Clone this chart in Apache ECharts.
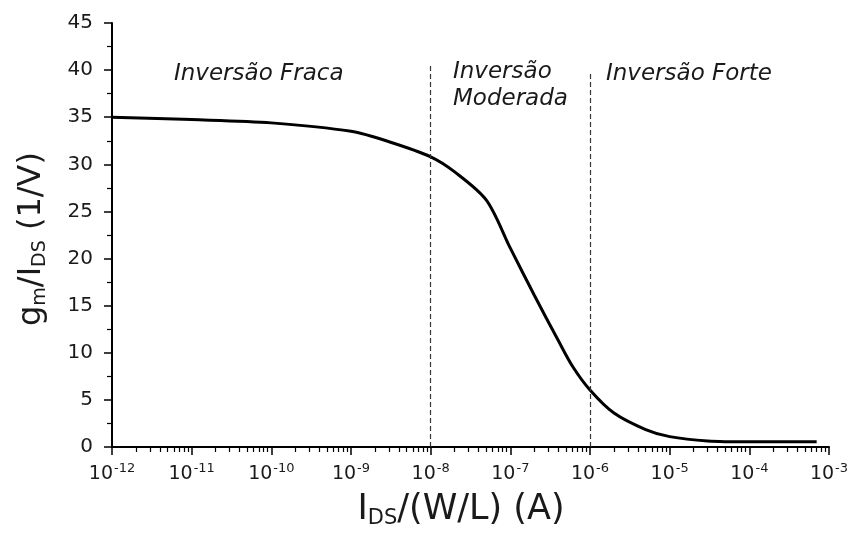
<!DOCTYPE html>
<html>
<head>
<meta charset="utf-8">
<script src="https://cdn.jsdelivr.net/npm/echarts@6/dist/echarts.min.js"></script>
<style>
  html, body { margin: 0; padding: 0; background: #fff; }
  #chart { width: 852px; height: 533px; }
</style>
</head>
<body>
<div id="chart"></div>
<script>
// data
const currents = [1e-12, 1e-11, 1e-10, 1e-9, 3e-9, 1e-8, 2e-8, 5e-8, 1e-7, 2e-7, 4e-7, 6e-7, 1e-6, 2e-6, 5e-6, 1e-5, 3e-5, 1e-4, 7e-4];
const gmId = [35.0, 34.75, 34.4, 33.5, 32.4, 30.8, 29.2, 26.2, 21.1, 16.1, 11.3, 8.6, 6.05, 3.6, 1.85, 1.1, 0.64, 0.55, 0.55];
const regionBounds = [1e-8, 1e-6];
const regionTops = [40.5, 39.8];
const decades = [-12, -11, -10, -9, -8, -7, -6, -5, -4, -3];

let minorTicks = [];
for (let d of decades.slice(0, -1)) {
    for (let m = 2; m <= 9; m++) minorTicks.push(m * Math.pow(10, d));
}

const font = '"DejaVu Sans", "Liberation Sans", Arial, sans-serif';
let chart = echarts.init(document.getElementById('chart'));

let axisCommon = {
    axisLine: { show: true, lineStyle: { color: '#000', width: 2 } },
    splitLine: { show: false },
};

let regionText = {
    fontSize: 23,
    fontStyle: 'italic',
    fontFamily: font,
    fill: '#1a1a1a',
    lineHeight: 27
};

let option = {
    animation: false,
    backgroundColor: '#fff',
    grid: { left: 112, right: 23, top: 23, bottom: 86 },
    xAxis: [
        Object.assign({
            type: 'log',
            logBase: 10,
            min: 1e-12,
            max: 1e-3,
            axisTick: { show: true, inside: false, length: 8, lineStyle: { color: '#000', width: 1.5 } },
            axisLabel: {
                margin: 15,
                fontFamily: font,
                color: '#1a1a1a',
                formatter: function (v) {
                    let e = Math.round(Math.log10(v));
                    return '{b|10}{s|' + e + '}';
                },
                rich: {
                    b: { fontSize: 19, fontFamily: font, color: '#1a1a1a' },
                    s: { fontSize: 13, fontFamily: font, color: '#1a1a1a', padding: [0, 0, 12, 1] }
                }
            }
        }, axisCommon),
        {
            type: 'log',
            logBase: 10,
            min: 1e-12,
            max: 1e-3,
            position: 'bottom',
            axisLine: { show: false },
            splitLine: { show: false },
            axisLabel: { show: false },
            axisTick: { show: true, length: 5, customValues: minorTicks, lineStyle: { color: '#000', width: 1.2 } }
        }
    ],
    yAxis: Object.assign({
        type: 'value',
        min: 0,
        max: 45,
        interval: 5,
        axisTick: { show: true, length: 8, lineStyle: { color: '#000', width: 1.5 } },
        minorTick: { show: true, splitNumber: 2, length: 5, lineStyle: { color: '#000', width: 1.2 } },
        axisLabel: { fontSize: 20, fontFamily: font, color: '#1a1a1a', margin: 19 }
    }, axisCommon),
    graphic: [
        { type: 'text', left: 174, top: 61, style: Object.assign({ text: 'Inversão Fraca' }, regionText) },
        { type: 'text', left: 453, top: 59, style: Object.assign({ text: 'Inversão\nModerada' }, regionText) },
        { type: 'text', left: 606, top: 61, style: Object.assign({ text: 'Inversão Forte' }, regionText) },
        {
            type: 'text', x: 32, y: 239, rotation: Math.PI / 2,
            style: {
                text: '{b|g}{s|m}{b|/I}{s|DS}{b| (1/V)}',
                align: 'center', verticalAlign: 'middle',
                rich: {
                    b: { fontSize: 32, fontFamily: font, fill: '#1a1a1a' },
                    s: { fontSize: 19, fontFamily: font, fill: '#1a1a1a', padding: [16, 0, 0, 0] }
                }
            }
        },
        {
            type: 'text', x: 461, y: 510,
            style: {
                text: '{b|I}{s|DS}{b|/(W/L) (A)}',
                align: 'center', verticalAlign: 'middle',
                rich: {
                    b: { fontSize: 35, fontFamily: font, fill: '#1a1a1a' },
                    s: { fontSize: 21, fontFamily: font, fill: '#1a1a1a', padding: [18, 0, 0, 0] }
                }
            }
        }
    ],
    series: [
        {
            type: 'line',
            data: currents.map((c, i) => [c, gmId[i]]),
            smooth: 0.3,
            showSymbol: false,
            lineStyle: { color: '#000', width: 3 },
            markLine: {
                silent: true,
                symbol: 'none',
                label: { show: false },
                lineStyle: { color: '#333', type: [5, 3], width: 1.2 },
                data: regionBounds.map((b, i) => [{ coord: [b, 0] }, { coord: [b, regionTops[i]] }])
            }
        }
    ]
};

chart.setOption(option);
</script>
</body>
</html>
